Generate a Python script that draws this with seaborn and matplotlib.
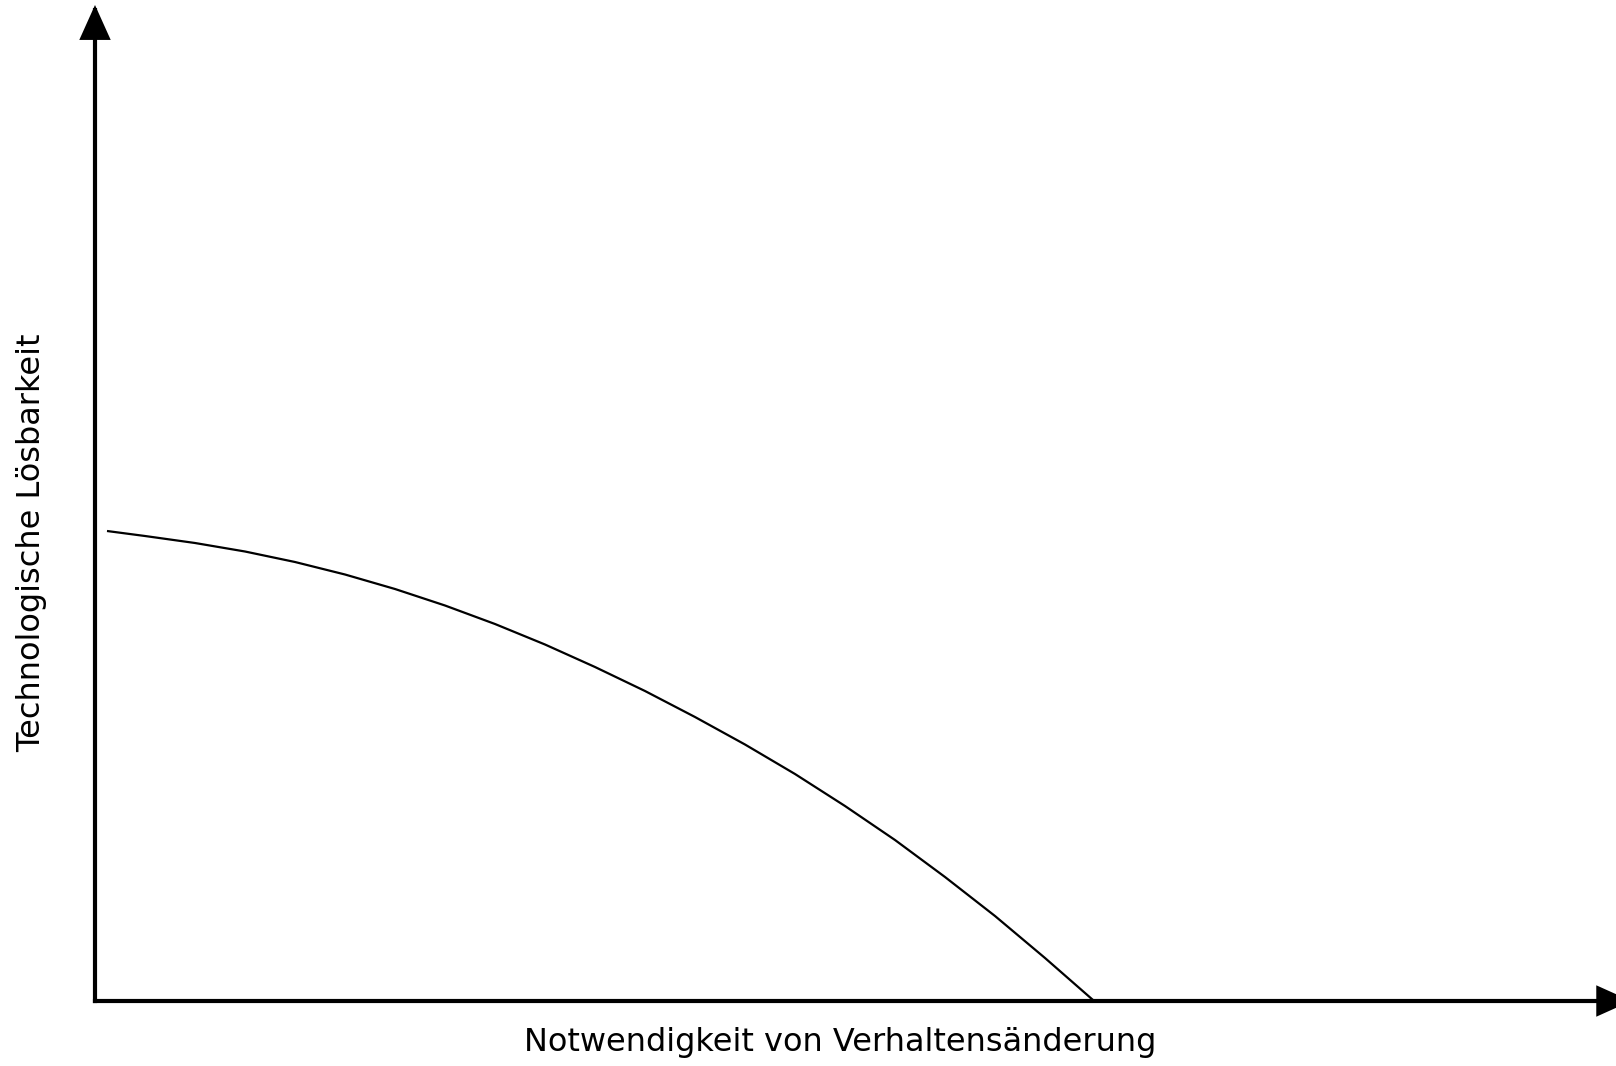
import matplotlib
matplotlib.use("Agg")
import matplotlib.pyplot as plt
import seaborn as sns
import pandas as pd

# Data (curve; arbitrary units, 0 at the axes origin)
need_change = [12, 50, 100, 150, 200, 250, 300, 350, 400, 450, 500, 550,
               600, 650, 700, 750, 800, 850, 900, 950, 998]
tech_solvability = [470, 465, 458, 449.5, 439, 426.5, 412, 395.5, 377, 356.5,
                    334, 310, 284, 256.5, 227, 195, 161, 124, 85, 43, 1]
x_label = "Notwendigkeit von Verhaltensänderung"
y_label = "Technologische Lösbarkeit"

sns.set_theme(style="white")
plt.rcParams['font.family'] = ['DejaVu Sans']

fig = plt.figure(figsize=(16.16, 10.66), dpi=100)
ax = fig.add_axes([95 / 1616, 65 / 1066, 1 - 95 / 1616, 1 - 70 / 1066])

df = pd.DataFrame({"x": need_change, "y": tech_solvability})
sns.lineplot(data=df, x="x", y="y", ax=ax, color="black", linewidth=1.6)
for ln in ax.lines:
    ln.set_solid_joinstyle("round")
    ln.set_solid_capstyle("butt")

ax.set_xlim(0, 1521)
ax.set_ylim(0, 996)
for s in ax.spines.values():
    s.set_visible(False)
ax.set_xticks([])
ax.set_yticks([])
ax.set_xlabel("")
ax.set_ylabel("")

arrow = dict(arrowstyle="-|>,head_width=0.45,head_length=1.0", color="black",
             lw=3, shrinkA=0, shrinkB=0, mutation_scale=20,
             joinstyle="miter", capstyle="projecting")
ax.annotate("", xy=(0, 1.0), xytext=(0, 0), xycoords="axes fraction",
            arrowprops=arrow, annotation_clip=False)
ax.annotate("", xy=(1.01, 0), xytext=(0, 0), xycoords="axes fraction",
            arrowprops=arrow, annotation_clip=False)

fig.text(840 / 1616, 1 - 1042 / 1066, x_label, ha="center", va="center",
         fontsize=23, color="black")
fig.text(32 / 1616, 1 - 543 / 1066, y_label, ha="center", va="center",
         rotation=90, fontsize=23, color="black")

fig.savefig("out.png", dpi=100)
